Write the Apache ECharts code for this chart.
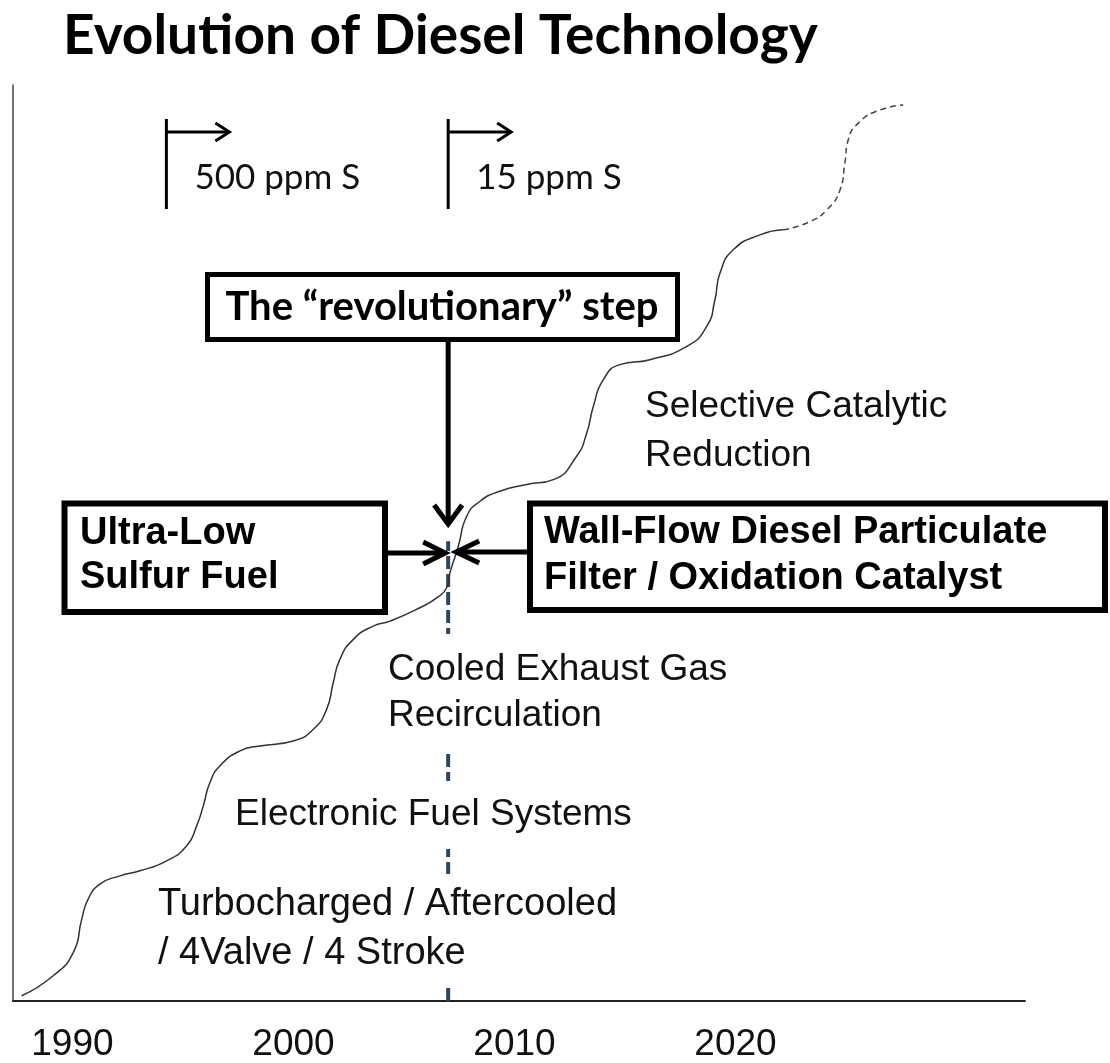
<!DOCTYPE html>
<html>
<head>
<meta charset="utf-8">
<script src="https://cdn.jsdelivr.net/npm/echarts@6/dist/echarts.min.js"></script>
<style>
html,body{margin:0;padding:0;background:#fff;}
#c{width:1110px;height:1063px;}
</style>
</head>
<body>
<div id="c"></div>
<script>
// ---- data ----
const yearTicks = [1990, 2000, 2010, 2020];

// technology progress curve (solid, achieved)
const curveYears = [1987.70, 1989.13, 1990.04, 1990.42, 1990.71, 1991.24, 1992.15, 1993.05, 1994.26, 1995.17,
  1995.62, 1995.92, 1996.22, 1996.67, 1997.58, 1998.48, 1999.99, 2000.90, 2001.50, 2001.80,
  2002.10, 2002.71, 2003.61, 2004.37, 2005.72, 2006.48, 2006.93, 2007.08, 2007.46, 2007.84,
  2008.44, 2009.34, 2010.55, 2011.76, 2012.81, 2013.27, 2013.57, 2014.02, 2014.77, 2016.13,
  2017.79, 2018.70, 2019.07, 2019.30, 2019.90, 2021.11, 2022.16];
const curveLevels = [0.58, 2.76, 5.31, 8.94, 11.12, 12.76, 13.66, 14.21, 15.30, 16.94,
  19.12, 21.30, 23.85, 25.66, 27.30, 27.84, 28.39, 29.66, 31.84, 34.75,
  37.30, 39.48, 40.93, 41.47, 42.93, 44.02, 45.11, 46.75, 49.65, 52.92,
  54.56, 55.65, 56.38, 56.92, 59.47, 62.02, 64.92, 67.83, 69.47, 70.01,
  71.46, 73.64, 76.55, 79.47, 82.01, 83.64, 84.19];

// projected continuation (dashed)
const futureYears = [2022.16, 2023.37, 2024.13, 2024.73, 2024.95, 2025.10, 2025.63, 2026.54, 2027.59];
const futureLevels = [84.19, 85.09, 86.37, 88.55, 91.46, 94.00, 96.00, 97.27, 97.82];

// fuel sulfur rules
const sulfurYears = [1994.25, 2007];
const sulfurLabels = ['500 ppm S', '15 ppm S'];

// the "revolutionary" year marker
const keyYear = 2007;
const keyLineLevels = [0, 50.2];

// labels
const titleText = 'Evolution of Diesel Technology';
const stageLabels = [
  'Turbocharged / Aftercooled\n/ 4Valve / 4 Stroke',
  'Electronic Fuel Systems',
  'Cooled Exhaust Gas\nRecirculation',
  'Selective Catalytic\nReduction'
];
const driverLabels = [
  'Ultra-Low\nSulfur Fuel',
  'Wall-Flow Diesel Particulate\nFilter / Oxidation Catalyst',
  'The \u201crevolutionary\u201d step'
];

// ---- chart ----
const chart = echarts.init(document.getElementById('c'));
const option = {
  animation: false,
  backgroundColor: '#fff',
  title: {
    text: titleText, left: 63, top: 9, padding: 0,
    textStyle: {fontFamily: 'Lato', fontWeight: 'bold', fontSize: 55, lineHeight: 55, color: '#000'}
  },
  grid: {left: 13, right: 85, top: 85, bottom: 61},
  xAxis: {
    type: 'value', min: 1987.31, max: 2033.10,
    axisLine: {show: true, onZero: false, lineStyle: {color: '#222', width: 2}},
    axisTick: {show: false},
    splitLine: {show: false},
    axisLabel: {
      customValues: yearTicks,
      formatter: v => String(v),
      fontFamily: 'Liberation Sans', fontSize: 37, color: '#111', margin: 25
    }
  },
  yAxis: {
    type: 'value', min: 0, max: 100,
    axisLine: {show: true, onZero: false, lineStyle: {color: '#444', width: 1.5}},
    axisTick: {show: false}, axisLabel: {show: false}, splitLine: {show: false}
  },
  series: [
    {
      type: 'line', name: 'Technology', smooth: 0.55, showSymbol: false, symbol: 'none',
      data: curveYears.map((y, i) => [y, curveLevels[i]]),
      lineStyle: {color: '#333', width: 1.5}, z: 3
    },
    {
      type: 'line', name: 'Future', smooth: 0.55, showSymbol: false, symbol: 'none',
      data: futureYears.map((y, i) => [y, futureLevels[i]]),
      lineStyle: {color: '#444', width: 1.5, type: [6, 4]}, z: 3
    },
    {
      type: 'line', name: '2007', showSymbol: false, symbol: 'none',
      data: keyLineLevels.map(v => [keyYear, v]),
      lineStyle: {color: '#2E4561', width: 4, type: [13, 5]}, z: 2
    },
    {
      type: 'custom', name: 'Sulfur', clip: false,
      data: sulfurYears.map(y => [y, 95]),
      encode: {x: 0, y: 1},
      renderItem: (params, api) => {
        const x = api.coord([api.value(0), api.value(1)])[0];
        return {
          type: 'group',
          children: [
            {type: 'line', shape: {x1: x, y1: 119, x2: x, y2: 209}, style: {stroke: '#000', lineWidth: 3}},
            {type: 'line', shape: {x1: x, y1: 132, x2: x + 61, y2: 132}, style: {stroke: '#000', lineWidth: 3}},
            {type: 'polyline', shape: {points: [[x + 49, 123], [x + 63, 132], [x + 49, 141]]},
              style: {stroke: '#000', lineWidth: 3, fill: null}},
            {type: 'text', x: x + 28, y: 178,
              style: {text: sulfurLabels[params.dataIndex], fontFamily: 'Lato', fontSize: 35, fill: '#111', verticalAlign: 'middle'}}
          ]
        };
      }
    }
  ]
};
chart.setOption(option);

const kx = chart.convertToPixel({xAxisIndex: 0}, keyYear);
const regular = {fontFamily: 'Liberation Sans', fontSize: 37, fill: '#111', verticalAlign: 'middle'};
const bold = {fontFamily: 'Liberation Sans', fontWeight: 'bold', fontSize: 38, fill: '#000', verticalAlign: 'middle'};

chart.setOption({
  graphic: [
    // stage labels (mask the dashed marker)
    {type: 'text', x: 154, y: 929, z: 100,
      style: Object.assign({text: stageLabels[0], lineHeight: 49, backgroundColor: '#fff', padding: [6, 4, 6, 4]}, regular, {fontSize: 38})},
    {type: 'text', x: 231, y: 815, z: 100,
      style: Object.assign({text: stageLabels[1], lineHeight: 40, backgroundColor: '#fff', padding: [14, 4, 14, 4]}, regular)},
    {type: 'text', x: 384, y: 693, z: 100,
      style: Object.assign({text: stageLabels[2], lineHeight: 46, backgroundColor: '#fff', padding: [12, 4, 14, 4]}, regular)},
    {type: 'text', x: 645, y: 431, z: 100,
      style: Object.assign({text: stageLabels[3], lineHeight: 49}, regular)},

    // boxes
    {type: 'rect', z: 50, shape: {x: 64.5, y: 503.5, width: 320.5, height: 108.5},
      style: {fill: '#fff', stroke: '#000', lineWidth: 6}},
    {type: 'text', z: 51, x: 80, y: 556, style: Object.assign({text: driverLabels[0], lineHeight: 44}, bold)},
    {type: 'rect', z: 50, shape: {x: 530, y: 503.5, width: 575, height: 106.5},
      style: {fill: '#fff', stroke: '#000', lineWidth: 6}},
    {type: 'text', z: 51, x: 544, y: 556, style: Object.assign({text: driverLabels[1], lineHeight: 46}, bold)},
    {type: 'rect', z: 50, shape: {x: 207.5, y: 274.5, width: 470, height: 65},
      style: {fill: '#fff', stroke: '#000', lineWidth: 5}},
    {type: 'text', z: 51, x: 442, y: 307,
      style: {text: driverLabels[2], fontFamily: 'Lato', fontWeight: 'bold', fontSize: 40, fill: '#000',
        align: 'center', verticalAlign: 'middle'}},

    // arrows converging on the key year
    {type: 'line', z: 60, shape: {x1: kx, y1: 342, x2: kx, y2: 521}, style: {stroke: '#000', lineWidth: 5}},
    {type: 'polyline', z: 60, shape: {points: [[kx - 14, 505], [kx, 524], [kx + 14, 505]]},
      style: {stroke: '#000', lineWidth: 5, fill: null}},
    {type: 'line', z: 60, shape: {x1: 388, y1: 553, x2: kx - 6, y2: 553}, style: {stroke: '#000', lineWidth: 5}},
    {type: 'polyline', z: 60, shape: {points: [[kx - 25, 542], [kx - 3, 553], [kx - 25, 564]]},
      style: {stroke: '#000', lineWidth: 5, fill: null}},
    {type: 'line', z: 60, shape: {x1: 527, y1: 552, x2: kx + 11, y2: 552}, style: {stroke: '#000', lineWidth: 5}},
    {type: 'polyline', z: 60, shape: {points: [[kx + 31, 541], [kx + 8, 552], [kx + 31, 563]]},
      style: {stroke: '#000', lineWidth: 5, fill: null}}
  ]
});
</script>
</body>
</html>
